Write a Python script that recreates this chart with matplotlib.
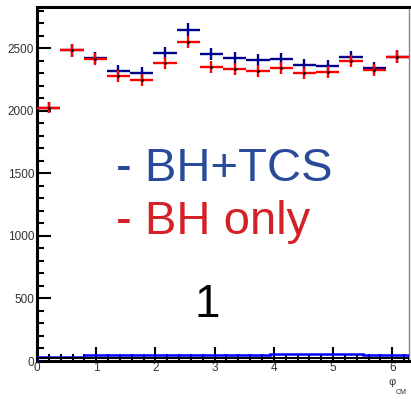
import numpy as np
import matplotlib
matplotlib.use("Agg")
import matplotlib.pyplot as plt
from matplotlib.ticker import MultipleLocator

plt.rcParams["font.family"] = ["Liberation Sans", "DejaVu Sans"]

# phi_CM distribution, 16 bins over [0, 2pi]
n_bins = 16
bh_tcs = [2025, 2484, 2425, 2316, 2305, 2460, 2647, 2452,
          2425, 2409, 2417, 2369, 2358, 2430, 2340, 2433]
bh_only = [2025, 2484, 2412, 2276, 2244, 2385, 2550, 2353,
           2332, 2321, 2342, 2305, 2313, 2401, 2329, 2433]
# low-count curves near the bottom of the frame
low_blue = [35, 35, 45, 45, 45, 45, 45, 45,
            45, 48, 52, 52, 52, 52, 45, 45]
low_black = [22] * n_bins

edges = np.linspace(0, 2 * np.pi, n_bins + 1)
centers = 0.5 * (edges[:-1] + edges[1:])
half = 0.5 * (edges[1] - edges[0])

fig = plt.figure(figsize=(4.11, 3.99), dpi=100)
ax = fig.add_axes([37 / 411, 38 / 399, 372 / 411, 354 / 399])

blue = "#00008f"
red = "#ff0000"

ax.errorbar(centers, bh_tcs, xerr=half, yerr=np.sqrt(bh_tcs), fmt="none",
            ecolor=blue, elinewidth=1.7, capsize=0, zorder=3)
ax.errorbar(centers, bh_only, xerr=half, yerr=np.sqrt(bh_only), fmt="none",
            ecolor=red, elinewidth=1.7, capsize=0, zorder=4)
ax.plot(centers, bh_only, ".", color="black", ms=2, zorder=5)

ax.stairs(low_blue, edges, color="#0000ff", lw=1.8, zorder=3)
ax.stairs(low_black, edges, color="black", lw=1.4, zorder=3)

ax.set_xlim(0, 2 * np.pi)
ax.set_ylim(0, 2830)

ax.xaxis.set_major_locator(MultipleLocator(1))
ax.xaxis.set_minor_locator(MultipleLocator(0.2))
ax.yaxis.set_major_locator(MultipleLocator(500))
ax.yaxis.set_minor_locator(MultipleLocator(100))
ax.tick_params(which="both", direction="in", top=False, right=False,
               colors="black", labelcolor="#333333", labelsize=8.5, width=1.5)
ax.tick_params(which="major", length=10, pad=2)
ax.tick_params(which="minor", length=5)
ax.tick_params(axis="x", pad=1)

for side in ("left", "bottom", "top"):
    ax.spines[side].set_linewidth(2.2)
    ax.spines[side].set_color("black")
ax.spines["right"].set_linewidth(1.0)
ax.spines["right"].set_color("#888888")

fig.text(392 / 411, 1 - 382 / 399, "φ", fontsize=8, color="#333333",
         ha="center", va="center")
fig.text(401 / 411, 1 - 393 / 399, "CM", fontsize=5, color="#333333",
         ha="center", va="center")

fig.text(116 / 411, 1 - 169 / 399, "- BH+TCS", fontsize=34, color="#2a4a9c",
         ha="left", va="center")
fig.text(116 / 411, 1 - 222 / 399, "- BH only", fontsize=34, color="#d42128",
         ha="left", va="center")
fig.text(207 / 411, 1 - 305 / 399, "1", fontsize=33, color="black",
         ha="center", va="center")

fig.savefig("out.png", dpi=100)
